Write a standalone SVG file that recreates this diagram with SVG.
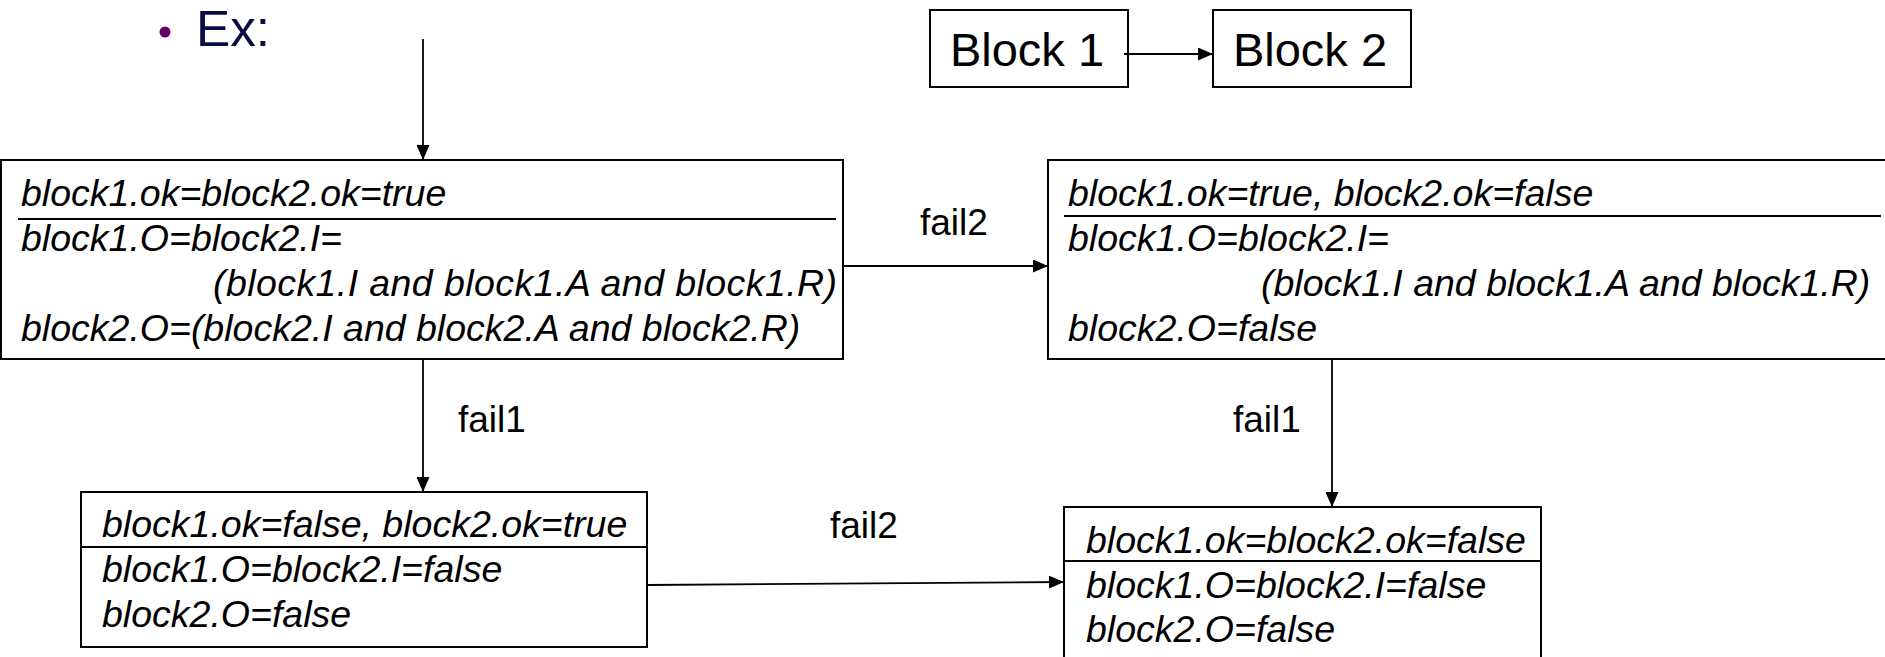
<svg xmlns="http://www.w3.org/2000/svg" width="1885" height="657" viewBox="0 0 1885 657">
  <style>
    .box { fill: #ffffff; stroke: #000000; stroke-width: 2; }
    .rule { stroke: #000000; stroke-width: 2; fill: none; }
    .wire { stroke: #000000; stroke-width: 1.8; fill: none; marker-end: url(#head); }
    .cond { font-family: "Liberation Sans", Arial, sans-serif; font-style: italic; font-size: 37.5px; fill: #000000; }
    .lbl { font-family: "Liberation Sans", Arial, sans-serif; font-size: 37px; fill: #000000; }
    .blk { font-family: "Liberation Sans", Arial, sans-serif; font-size: 47px; fill: #000000; text-anchor: middle; }
    .title { font-family: "Liberation Sans", Arial, sans-serif; font-size: 50px; fill: #0b0b45; }
  </style>
  <defs>
    <marker id="head" markerUnits="userSpaceOnUse" markerWidth="15" markerHeight="13" refX="15" refY="6.5" orient="auto">
      <path d="M0,0 L15,6.5 L0,13 z" fill="#000000"/>
    </marker>
  </defs>

  <rect width="1885" height="657" fill="#ffffff"/>

  <!-- slide bullet -->
  <g id="heading">
    <circle cx="165" cy="32" r="5.5" fill="#660066"/>
    <text class="title" x="196" y="46" textLength="74" lengthAdjust="spacingAndGlyphs">Ex:</text>
  </g>

  <!-- legend: two blocks in series -->
  <g id="block1">
    <rect class="box" x="930" y="10" width="198" height="77"/>
    <text class="blk" x="1027" y="66">Block 1</text>
  </g>
  <g id="block2">
    <rect class="box" x="1213" y="10" width="198" height="77"/>
    <text class="blk" x="1310" y="66">Block 2</text>
  </g>

  <!-- state: both ok -->
  <g id="state-ok-ok">
    <rect class="box" x="1" y="160" width="842" height="199"/>
    <line class="rule" x1="18" y1="219" x2="836" y2="219"/>
    <text class="cond" x="21" y="206">block1.ok=block2.ok=true</text>
    <text class="cond" x="21" y="251">block1.O=block2.I=</text>
    <text class="cond" x="213" y="296" textLength="624" lengthAdjust="spacing">(block1.I and block1.A and block1.R)</text>
    <text class="cond" x="21" y="341">block2.O=(block2.I and block2.A and block2.R)</text>
  </g>

  <!-- state: block2 failed -->
  <g id="state-ok-fail">
    <rect class="box" x="1048" y="160" width="850" height="199"/>
    <line class="rule" x1="1064" y1="216" x2="1881" y2="216"/>
    <text class="cond" x="1068" y="206">block1.ok=true, block2.ok=false</text>
    <text class="cond" x="1068" y="251">block1.O=block2.I=</text>
    <text class="cond" x="1261" y="296">(block1.I and block1.A and block1.R)</text>
    <text class="cond" x="1068" y="341">block2.O=false</text>
  </g>

  <!-- state: block1 failed -->
  <g id="state-fail-ok">
    <rect class="box" x="81" y="492" width="566" height="155"/>
    <line class="rule" x1="81" y1="547" x2="647" y2="547"/>
    <text class="cond" x="102" y="537">block1.ok=false, block2.ok=true</text>
    <text class="cond" x="102" y="582">block1.O=block2.I=false</text>
    <text class="cond" x="102" y="627">block2.O=false</text>
  </g>

  <!-- state: both failed -->
  <g id="state-fail-fail">
    <rect class="box" x="1064" y="507" width="477" height="170"/>
    <line class="rule" x1="1064" y1="561" x2="1541" y2="561"/>
    <text class="cond" x="1086" y="553">block1.ok=block2.ok=false</text>
    <text class="cond" x="1086" y="598">block1.O=block2.I=false</text>
    <text class="cond" x="1086" y="642">block2.O=false</text>
  </g>

  <!-- transitions -->
  <g id="connectors">
    <line class="wire" x1="1124" y1="54" x2="1213" y2="54"/>
    <line class="wire" x1="423" y1="39" x2="423" y2="160"/>
    <line class="wire" x1="843" y1="266" x2="1048" y2="266"/>
    <line class="wire" x1="423" y1="359" x2="423" y2="492"/>
    <line class="wire" x1="1332" y1="359" x2="1332" y2="507"/>
    <line class="wire" x1="647" y1="585" x2="1064" y2="582"/>
    <text class="lbl" x="920" y="235">fail2</text>
    <text class="lbl" x="458" y="432">fail1</text>
    <text class="lbl" x="1233" y="432">fail1</text>
    <text class="lbl" x="830" y="538">fail2</text>
  </g>
</svg>
